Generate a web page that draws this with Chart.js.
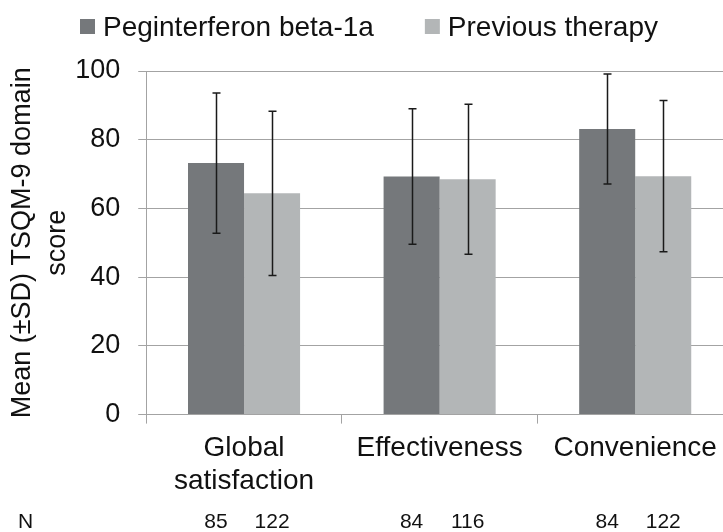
<!DOCTYPE html>
<html>
<head>
<meta charset="utf-8">
<title>TSQM-9 domain scores</title>
<script src="https://cdn.jsdelivr.net/npm/chart.js@4/dist/chart.umd.min.js"></script>
<style>
  html, body { margin: 0; padding: 0; background: #fff; overflow: hidden; }
  #wrap { width: 733px; height: 532px; }
</style>
</head>
<body>
<div id="wrap"><canvas id="c" width="733" height="532"></canvas></div>
<script>
// Domains on the x axis
const categories = [['Global', 'satisfaction'], 'Effectiveness', 'Convenience'];
const seriesNames = ['Peginterferon beta-1a', 'Previous therapy'];

// Mean TSQM-9 domain scores and their standard deviations
const pegMean = [73.2, 69.3, 83.1];
const pegSD = [20.4, 19.7, 16.0];
const prevMean = [64.4, 68.5, 69.4];
const prevSD = [23.9, 21.8, 22.0];

// Number of patients per bar
const pegN = [85, 84, 84];
const prevN = [122, 116, 122];

// Y axis ticks
const yTicks = [0, 20, 40, 60, 80, 100];

const FONT = 'Liberation Sans, Arial, Helvetica, sans-serif';
const DARK = '#75787b';
const LIGHT = '#b3b6b7';
const GRID = '#a3a3a3';
const TEXT = '#111111';

const sds = [pegSD, prevSD];
const counts = [pegN, prevN];

// Whiskers for mean ± SD
const errorBars = {
  id: 'errorBars',
  afterDatasetsDraw(chart) {
    const ctx = chart.ctx;
    const y = chart.scales.y;
    ctx.save();
    ctx.strokeStyle = '#1a1a1a';
    ctx.lineWidth = 1.5;
    chart.data.datasets.forEach((ds, di) => {
      const meta = chart.getDatasetMeta(di);
      meta.data.forEach((bar, i) => {
        const m = ds.data[i];
        const sd = sds[di][i];
        const top = y.getPixelForValue(m + sd);
        const bot = y.getPixelForValue(m - sd);
        const x = Math.round(bar.x) + 0.5;
        ctx.beginPath();
        ctx.moveTo(x, top); ctx.lineTo(x, bot);
        ctx.moveTo(x - 4, top); ctx.lineTo(x + 4, top);
        ctx.moveTo(x - 4, bot); ctx.lineTo(x + 4, bot);
        ctx.stroke();
      });
    });
    ctx.restore();
  }
};

// Legend row at the top and N row under the axis labels
const extras = {
  id: 'extras',
  afterDraw(chart) {
    const ctx = chart.ctx;
    ctx.save();
    // legend
    ctx.font = '28px ' + FONT;
    ctx.textBaseline = 'middle';
    ctx.textAlign = 'left';
    let x = 80;
    chart.data.datasets.forEach((ds) => {
      ctx.fillStyle = ds.backgroundColor;
      ctx.fillRect(x, 19, 15, 15);
      ctx.fillStyle = TEXT;
      ctx.fillText(ds.label, x + 23, 28);
      x += 23 + ctx.measureText(ds.label).width + 51;
    });
    // N row
    ctx.font = '21px ' + FONT;
    ctx.fillStyle = TEXT;
    ctx.textAlign = 'left';
    ctx.fillText('N', 18, 522);
    ctx.textAlign = 'center';
    chart.data.datasets.forEach((ds, di) => {
      const meta = chart.getDatasetMeta(di);
      meta.data.forEach((bar, i) => {
        ctx.fillText(String(counts[di][i]), bar.x, 522);
      });
    });
    ctx.restore();
  }
};

new Chart(document.getElementById('c'), {
  type: 'bar',
  data: {
    labels: categories,
    datasets: [
      { label: seriesNames[0], data: pegMean, backgroundColor: DARK },
      { label: seriesNames[1], data: prevMean, backgroundColor: LIGHT }
    ]
  },
  options: {
    responsive: false,
    animation: false,
    devicePixelRatio: 1,
    categoryPercentage: 0.573,
    barPercentage: 1.0,
    layout: { padding: { top: 71, left: 0, right: 0, bottom: 26 } },
    plugins: {
      legend: { display: false },
      tooltip: { enabled: false }
    },
    scales: {
      x: {
        grid: {
          drawOnChartArea: false,
          drawTicks: true,
          tickLength: 9,
          color: GRID,
          lineWidth: 1
        },
        border: { display: true, color: GRID, width: 1 },
        ticks: {
          color: TEXT,
          padding: 9,
          maxRotation: 0,
          autoSkip: false,
          font: { family: FONT, size: 28, lineHeight: 1.15 }
        }
      },
      y: {
        min: 0,
        max: 100,
        afterBuildTicks(scale) {
          scale.ticks = yTicks.map(v => ({ value: v }));
        },
        grid: {
          color: GRID,
          lineWidth: 1,
          tickLength: 8,
          drawTicks: true
        },
        border: { display: true, color: GRID, width: 1 },
        ticks: {
          color: TEXT,
          padding: 18,
          font: { family: FONT, size: 27 }
        },
        title: {
          display: true,
          text: ['Mean (\u00b1SD) TSQM-9 domain', 'score'],
          color: TEXT,
          padding: { top: 5, bottom: -18 },
          font: { family: FONT, size: 27, lineHeight: 1.3 }
        }
      }
    }
  },
  plugins: [errorBars, extras]
});
</script>
</body>
</html>
